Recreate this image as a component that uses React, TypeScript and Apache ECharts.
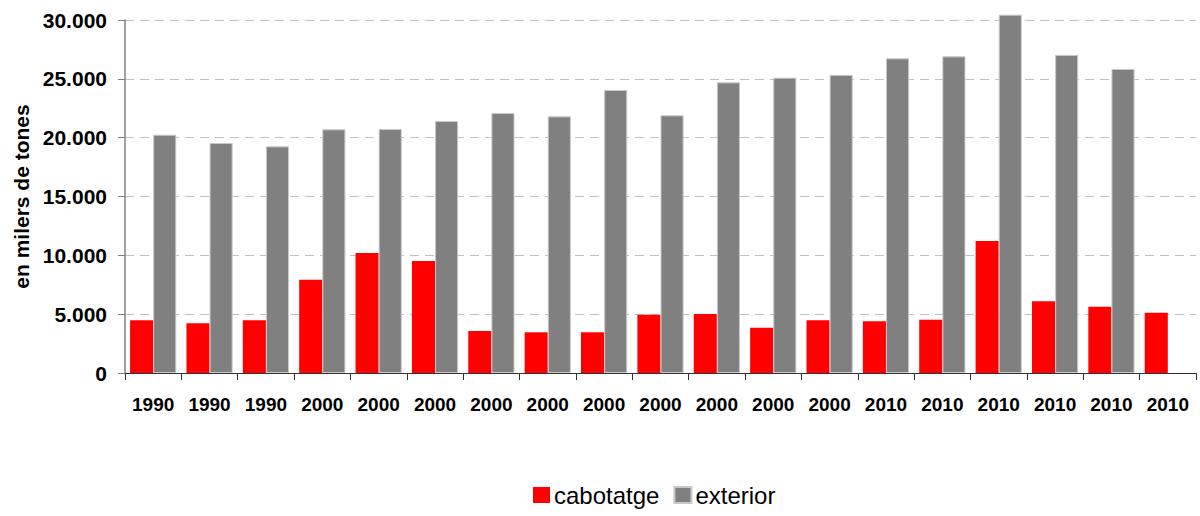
import React, { useEffect, useRef } from "react";
import * as echarts from "echarts";

const categories = ["1990", "1990", "1990", "2000", "2000", "2000", "2000", "2000", "2000", "2000", "2000", "2000", "2000", "2010", "2010", "2010", "2010", "2010", "2010"];
const cabotatge = [4480, 4220, 4480, 7930, 10200, 9520, 3570, 3460, 3460, 4960, 5010, 3850, 4480, 4390, 4530, 11220, 6090, 5640, 5130];
const exterior: (number | null)[] = [20250, 19550, 19260, 20710, 20740, 21420, 22100, 21810, 24050, 21900, 24700, 25100, 25330, 26740, 26910, 30450, 27030, 25840, null];
const seriesNames = ["cabotatge", "exterior"];
const yMin = 0;
const yMax = 30000;
const yInterval = 5000;

const fmt = (v: number) => (v === 0 ? "0" : v.toLocaleString("de-DE"));

export default function App() {
  const ref = useRef<HTMLDivElement>(null);
  useEffect(() => {
    if (!ref.current) return;
    const chart = echarts.init(ref.current, undefined, { renderer: "svg" });
    chart.setOption({
      animation: false,
      textStyle: { fontFamily: "Liberation Sans, Arial, sans-serif" },
      grid: { left: 125, right: 4, top: 20, bottom: 143, containLabel: false },
      legend: {
        data: seriesNames,
        left: 528,
        top: 478,
        itemWidth: 17,
        itemHeight: 16,
        itemGap: 14,
        icon: "rect",
        textStyle: { fontSize: 24, color: "#000", fontFamily: "Liberation Sans, Arial, sans-serif", padding: [0, 0, 0, -1] },
      },
      xAxis: {
        type: "category",
        data: categories,
        boundaryGap: true,
        axisLine: { lineStyle: { color: "#333", width: 1 } },
        axisTick: { show: true, length: 7, lineStyle: { color: "#333" } },
        axisLabel: { fontSize: 19, fontWeight: "bold", color: "#000", margin: 22, interval: 0 },
      },
      yAxis: {
        type: "value",
        min: yMin,
        max: yMax,
        interval: yInterval,
        name: "en milers de tones",
        nameLocation: "middle",
        nameGap: 91,
        nameRotate: 90,
        nameTextStyle: { fontSize: 21, fontWeight: "bold", color: "#000" },
        axisLine: { show: true, lineStyle: { color: "#808080", width: 1.5 } },
        axisTick: { show: true, length: 7, lineStyle: { color: "#808080" } },
        axisLabel: { fontSize: 21, fontWeight: "bold", color: "#000", margin: 18, formatter: fmt },
        splitLine: { show: true, lineStyle: { color: "#c0c0c0", type: [9, 6], width: 1 } },
      },
      series: [
        {
          name: seriesNames[0],
          type: "bar",
          data: cabotatge,
          barGap: "0%",
          barCategoryGap: "18%",
          clip: false,
          itemStyle: { color: "#ff0000" },
        },
        {
          name: seriesNames[1],
          type: "bar",
          data: exterior,
          barGap: "0%",
          barCategoryGap: "18%",
          clip: false,
          itemStyle: { color: "#808080", borderColor: "#c8c8c8", borderWidth: 1 },
        },
      ],
    });
    return () => chart.dispose();
  }, []);
  return <div ref={ref} style={{ width: 1200, height: 516, position: "absolute", left: 0, top: 0 }} />;
}
